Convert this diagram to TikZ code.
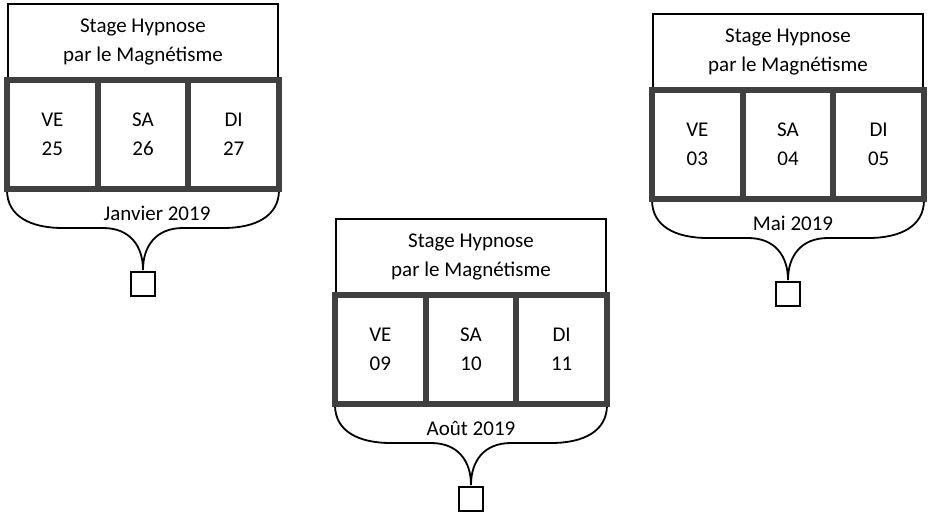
\documentclass[tikz,border=0pt]{standalone}
\usepackage{fontspec}
\setmainfont{Carlito}
\usetikzlibrary{positioning}
\definecolor{cadre}{HTML}{404040}
\tikzset{
  titre/.style={draw,line width=1.5pt,minimum width=270pt,minimum height=76pt,
    anchor=north west,align=center,inner sep=0pt,outer sep=0pt},
  jour/.style={draw=cadre,line width=6pt,minimum width=90.67pt,minimum height=109pt,
    align=center,inner sep=0pt,outer sep=0pt},
  boite/.style={draw,line width=1.6pt,minimum size=24pt,inner sep=0pt,outer sep=0pt},
  accolade/.style={line width=1.8pt}
}
\begin{document}
\begin{tikzpicture}[x=1pt,y=-1pt,font=\fontsize{21}{29}\selectfont]
\useasboundingbox (0,0) rectangle (928,515);
\foreach \id/\bx/\by/\dx/\ja/\jb/\jc/\mois in
  {j/8/4/149/25/26/27/Janvier 2019, a/336/219/135/09/10/11/Août 2019, m/653/14/140/03/04/05/Mai 2019}{
  \begin{scope}[shift={(\bx,\by)}]
    % accolade sous les jours
    \coordinate (\id g) at (-1,186);
    \coordinate (\id p) at (135,266);
    \coordinate (\id d) at (271,186);
    \draw[accolade] (\id g) .. controls (-1,212) and (22,224) .. (55,224) -- (95,224)
      .. controls (122,224) and (135,242) .. (\id p)
      .. controls (135,242) and (148,224) .. (175,224) -- (215,224)
      .. controls (248,224) and (271,212) .. (\id d);
    \node[titre] (\id t) at (0,0) {Stage Hypnose\\par le Magnétisme};
    \node[jour,anchor=north west] (\id 1) at (-1,76) {VE\\\ja};
    \node[jour,right=0pt of \id 1] (\id 2) {SA\\\jb};
    \node[jour,right=0pt of \id 2] (\id 3) {DI\\\jc};
    \node (\id m) at (\dx,209) {\mois};
    \node[boite,below=2pt of \id p] (\id b) {};
  \end{scope}
}
\end{tikzpicture}
\end{document}
